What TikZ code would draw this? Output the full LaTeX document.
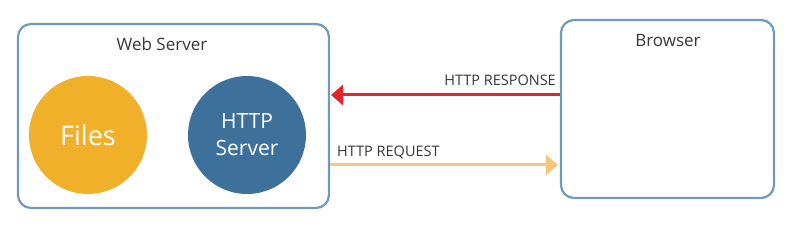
\documentclass[tikz,border=0pt]{standalone}
\usepackage{fontspec}
\setmainfont{Open Sans}
\usetikzlibrary{arrows.meta}
\definecolor{boxblue}{HTML}{6F9BB6}
\definecolor{filesyellow}{HTML}{F0B02A}
\definecolor{srvblue}{HTML}{3E709C}
\definecolor{respred}{HTML}{E0262A}
\definecolor{reqyellow}{HTML}{F6C67C}
\definecolor{txt}{HTML}{383838}
\tikzset{
  panel/.style={draw=boxblue, line width=2.2pt, rounded corners=13pt, fill=white},
  bubble/.style={circle, minimum size=118pt, inner sep=0pt, text=white, align=center},
  lbl/.style={text=txt, inner sep=0pt},
  link/.style={line width=3pt, -{Triangle[length=12pt,width=20pt]}}
}
\begin{document}
\begin{tikzpicture}[x=1pt,y=-1pt]
\useasboundingbox (0,0) rectangle (800,237);
\fill[white] (0,0) rectangle (800,237);
\draw[panel] (18,24) rectangle (329,208);
\draw[panel] (561,20) rectangle (774,198);
\node[lbl, font=\fontsize{17}{19}\selectfont] (wst) at (162,44) {Web Server};
\node[lbl, font=\fontsize{17}{19}\selectfont] (bt) at (668,41) {Browser};
\node[bubble, fill=filesyellow, font=\fontsize{27}{30}\selectfont] (files) at (88,135) {Files};
\node[bubble, fill=srvblue, font=\fontsize{21}{27}\selectfont] (http) at (247,135) {HTTP\\Server};
\coordinate (ws) at (329,95);
\coordinate (br) at (561,95);
\coordinate (wsq) at (329,165);
\coordinate (brq) at (561,165);
\draw[link, color=respred] ([xshift=-1pt]br) -- ([xshift=2pt]ws);
\draw[link, color=reqyellow] ([xshift=1pt]wsq) -- ([xshift=-3pt]brq);
\node[lbl, font=\fontsize{14.5}{16}\selectfont, anchor=base east] (resp) at (556,86) {HTTP RESPONSE};
\node[lbl, font=\fontsize{14.5}{16}\selectfont, anchor=base west] (req) at (337,157) {HTTP REQUEST};
\end{tikzpicture}
\end{document}
